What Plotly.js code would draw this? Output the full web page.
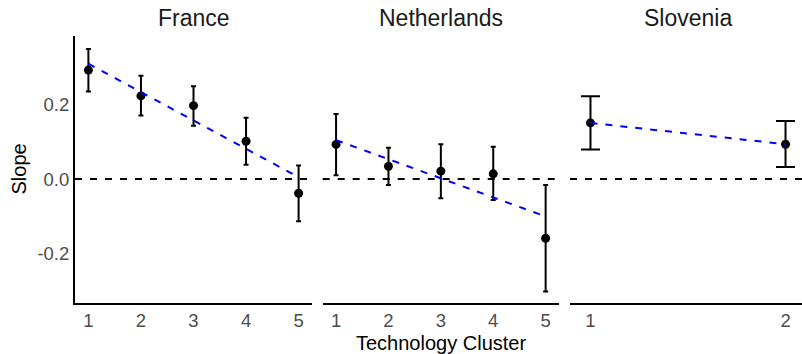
<!DOCTYPE html>
<html>
<head>
<meta charset="utf-8">
<script src="https://cdn.plot.ly/plotly-3.0.1.min.js"></script>
<style>html,body{margin:0;padding:0;overflow:hidden;background:#fff}</style>
</head>
<body>
<div id="chart" style="width:806px;height:354px"></div>
<script>
// ---- data ----
const panels = ["France", "Netherlands", "Slovenia"];
const clustersFR = [1, 2, 3, 4, 5];
const slopeFR = [0.291, 0.222, 0.196, 0.101, -0.038];
const upperFR = [0.347, 0.276, 0.248, 0.164, 0.036];
const lowerFR = [0.234, 0.170, 0.142, 0.038, -0.113];
const fitXFR = [1, 5];
const fitFR = [0.308, 0.005];

const clustersNL = [1, 2, 3, 4, 5];
const slopeNL = [0.0925, 0.034, 0.021, 0.014, -0.158];
const upperNL = [0.174, 0.0835, 0.093, 0.086, -0.016];
const lowerNL = [0.010, -0.016, -0.051, -0.056, -0.300];
const fitXNL = [1, 5];
const fitNL = [0.104, -0.100];

const clustersSI = [1, 2];
const slopeSI = [0.150, 0.093];
const upperSI = [0.221, 0.155];
const lowerSI = [0.079, 0.032];
const fitXSI = [1, 2];
const fitSI = [0.150, 0.093];

const refValue = 0;
const yTicks = [-0.2, 0.0, 0.2];
const yTickText = ["-0.2", "0.0", "0.2"];

// ---- build traces ----
const sets = [
  {x: clustersFR, y: slopeFR, up: upperFR, lo: lowerFR, fx: fitXFR, fy: fitFR, xa: "x", cap: 2.5},
  {x: clustersNL, y: slopeNL, up: upperNL, lo: lowerNL, fx: fitXNL, fy: fitNL, xa: "x2", cap: 2.5},
  {x: clustersSI, y: slopeSI, up: upperSI, lo: lowerSI, fx: fitXSI, fy: fitSI, xa: "x3", cap: 9.5}
];
const traces = [];
sets.forEach(s => {
  traces.push({
    type: "scatter", mode: "markers", x: s.x, y: s.y, xaxis: s.xa, yaxis: "y",
    marker: {color: "black", size: 9},
    error_y: {type: "data", symmetric: false,
      array: s.up.map((u, i) => u - s.y[i]),
      arrayminus: s.lo.map((l, i) => s.y[i] - l),
      color: "black", thickness: 2, width: s.cap},
    showlegend: false, hoverinfo: "skip"
  });
  traces.push({
    type: "scatter", mode: "lines", x: s.fx, y: s.fy, xaxis: s.xa, yaxis: "y",
    line: {color: "#0000ff", width: 2, dash: "7px,8px"},
    showlegend: false, hoverinfo: "skip"
  });
});

const W = 806, L = 75;
const pw = W - L;
function dom(a, b) { return [(a - L) / pw, (b - L) / pw]; }
const FAM = "Liberation Sans, Arial, sans-serif";

const xBase = {
  showgrid: false, zeroline: false, showline: true, linecolor: "black", linewidth: 2,
  ticks: "", tickfont: {family: FAM, size: 18.5, color: "#4d4d4d"},
  anchor: "y", fixedrange: true
};

const shapes = ["x", "x2", "x3"].map(xa => ({
  type: "line", xref: xa + " domain", yref: "y", x0: 0, x1: 1, y0: refValue, y1: refValue,
  line: {color: "black", width: 2, dash: "7px,8px"}, layer: "below"
}));

const annotations = panels.map((p, i) => ({
  text: p, xref: (i === 0 ? "x" : "x" + (i + 1)) + " domain", yref: "paper",
  x: 0.5, y: 1, yshift: 18, xanchor: "center", yanchor: "middle", showarrow: false,
  font: {family: FAM, size: 23, color: "#1a1a1a"}
}));
annotations.push({
  text: "Technology Cluster", xref: "paper", yref: "paper", x: 0.5, y: 0, yshift: -40,
  xanchor: "center", yanchor: "middle", showarrow: false,
  font: {family: FAM, size: 20, color: "black"}
});
annotations.push({
  text: "Slope", xref: "paper", yref: "paper", x: 0, xshift: -57, y: 0.5, textangle: -90,
  xanchor: "center", yanchor: "middle", showarrow: false,
  font: {family: FAM, size: 20, color: "black"}
});

const layout = {
  width: W, height: 354,
  margin: {l: L, r: 0, t: 36, b: 51, pad: 0},
  paper_bgcolor: "white", plot_bgcolor: "white",
  xaxis: Object.assign({}, xBase, {domain: dom(75, 312), range: [0.745, 5.255], tickvals: clustersFR}),
  xaxis2: Object.assign({}, xBase, {domain: dom(322.7, 559), range: [0.745, 5.255], tickvals: clustersNL}),
  xaxis3: Object.assign({}, xBase, {domain: dom(570, 806), range: [0.895, 2.105], tickvals: clustersSI}),
  yaxis: {
    range: [-0.331, 0.382], showgrid: false, zeroline: false, showline: true,
    linecolor: "black", linewidth: 2, ticks: "", tickvals: yTicks, ticktext: yTickText,
    tickfont: {family: FAM, size: 18.5, color: "#4d4d4d"},
    anchor: "x", fixedrange: true
  },
  shapes: shapes,
  annotations: annotations,
  showlegend: false
};

Plotly.newPlot("chart", traces, layout, {staticPlot: true, displayModeBar: false});
</script>
</body>
</html>
